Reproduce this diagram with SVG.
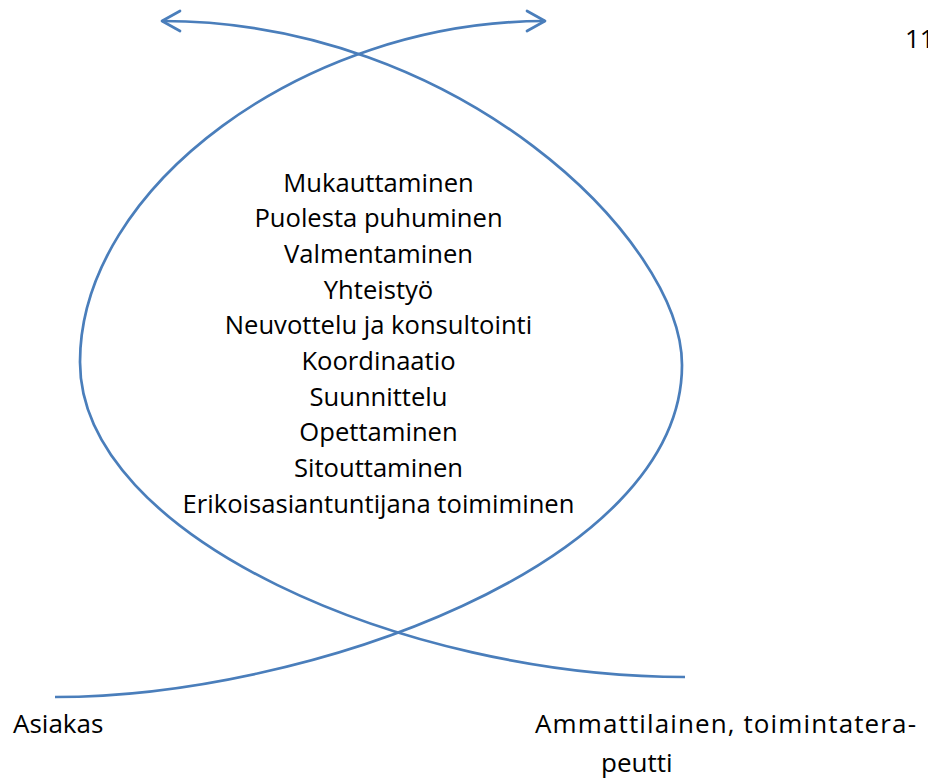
<svg xmlns="http://www.w3.org/2000/svg" width="928" height="778" viewBox="0 0 928 778">
  <style>
    .curve { fill: none; stroke: #4A7EBB; stroke-width: 2.7; stroke-linecap: butt; }
    .txt { font-family: "Open Sans", "Noto Sans", sans-serif; fill: #000; }
    .item { font-size: 25.6px; text-anchor: middle; }
    .label { font-size: 26px; }
  </style>
  <defs>
    <marker id="openArrow" markerUnits="userSpaceOnUse" viewBox="-22 -14 26 28" refX="0" refY="0"
            markerWidth="26" markerHeight="28" orient="auto" overflow="visible">
      <path d="M-18,-10 L0,0 L-18,10" fill="none" stroke="#4A7EBB" stroke-width="2.7"
            stroke-linecap="round" stroke-linejoin="round"/>
    </marker>
  </defs>

  <rect width="928" height="778" fill="#fff"/>

  <!-- two crossing curved arrows forming the loop -->
  <g id="connectors">
    <path id="curve-client" class="curve" marker-end="url(#openArrow)"
          d="M55,697 C305,697 682,565 682,365 C682,240 458,21 162,21"/>
    <path id="curve-professional" class="curve" marker-end="url(#openArrow)"
          d="M685,677 C405,677 80,537 80,362 C80,187 305,21 545,21"/>
  </g>

  <!-- list of working methods inside the loop -->
  <g id="methods" class="txt item">
    <text x="378.5" y="191.7">Mukauttaminen</text>
    <text x="378.5" y="227.4">Puolesta puhuminen</text>
    <text x="378.5" y="263">Valmentaminen</text>
    <text x="378.5" y="298.7">Yhteistyö</text>
    <text x="378.5" y="334.4">Neuvottelu ja konsultointi</text>
    <text x="378.5" y="370">Koordinaatio</text>
    <text x="378.5" y="405.7">Suunnittelu</text>
    <text x="378.5" y="441.4">Opettaminen</text>
    <text x="378.5" y="477">Sitouttaminen</text>
    <text x="378.5" y="512.7">Erikoisasiantuntijana toimiminen</text>
  </g>

  <g id="client" class="txt label">
    <text x="13" y="732.7">Asiakas</text>
  </g>

  <g id="professional" class="txt label">
    <text x="535" y="732.7" textLength="381" lengthAdjust="spacing">Ammattilainen, toimintatera-</text>
    <text x="601" y="771.7">peutti</text>
  </g>

  <g id="page-number" class="txt label">
    <text x="905" y="48">11</text>
  </g>
</svg>
